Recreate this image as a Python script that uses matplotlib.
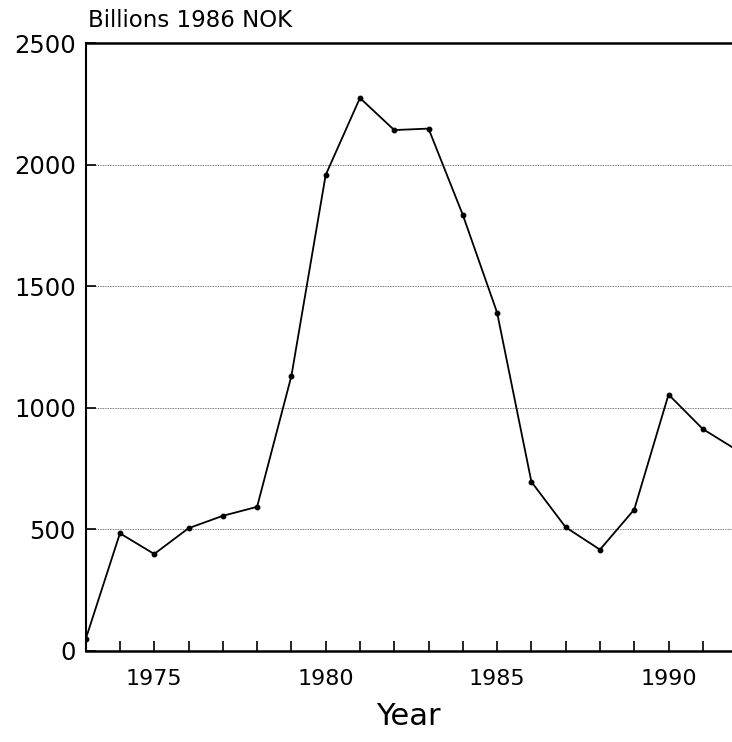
import matplotlib.pyplot as plt

# Verdier lest av figuren
aar = [1973, 1974, 1975, 1976, 1977, 1978, 1979, 1980, 1981, 1982,
       1983, 1984, 1985, 1986, 1987, 1988, 1989, 1990, 1991, 1992]
verdi = [47, 483, 398, 504, 555, 592, 1130, 1957, 2274, 2142,
         2148, 1793, 1391, 695, 508, 416, 581, 1054, 912, 825]
y_ticks = [0, 500, 1000, 1500, 2000, 2500]
x_labels = [1975, 1980, 1985, 1990]

fig = plt.figure(figsize=(7.32, 7.42), dpi=100)
ax = fig.add_axes([0.117, 0.123, 0.89, 0.819])

ax.plot(aar, verdi, color='black', linewidth=1.3, marker='o', markersize=3.2)

ax.set_xlim(1973, 1992)
ax.set_ylim(0, 2500)

# Rutenett
for y in y_ticks[1:-1]:
    ax.axhline(y, color='black', linewidth=0.6, linestyle=(0, (1, 1)), alpha=0.7)

ax.set_yticks(y_ticks)
ax.set_xticks(aar, minor=True)
ax.set_xticks(x_labels)
ax.tick_params(axis='x', which='both', direction='in', length=7, width=1.2,
               labelsize=16, pad=13)
ax.tick_params(axis='y', direction='in', length=7, width=1.2, labelsize=17.5, pad=7)

ax.spines['right'].set_visible(False)
ax.spines['top'].set_linewidth(1.8)
ax.spines['left'].set_linewidth(1.5)
ax.spines['bottom'].set_linewidth(1.8)

ax.set_xlabel('Year', fontsize=22)
ax.xaxis.set_label_coords(0.495, -0.085)
fig.text(88 / 732, 1 - 27 / 742, 'Billions 1986 NOK', fontsize=16.5,
         ha='left', va='baseline')

fig.savefig('out.png', dpi=100)
